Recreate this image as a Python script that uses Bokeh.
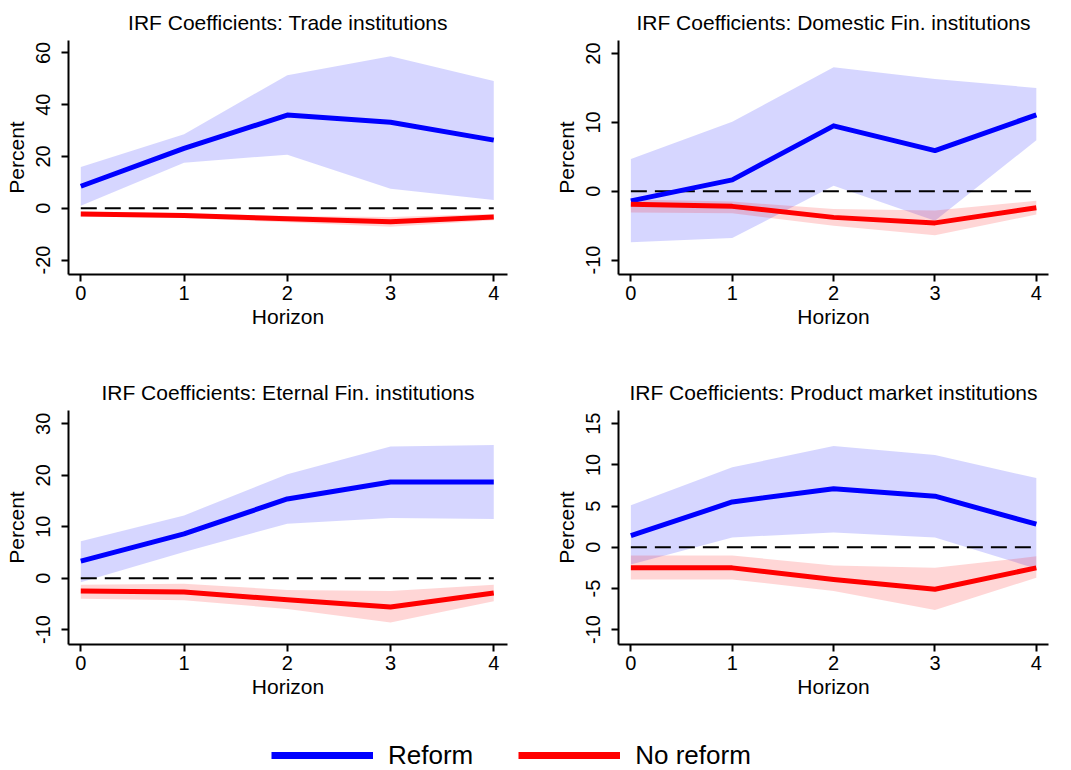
from bokeh.plotting import figure
from bokeh.layouts import column, row
from bokeh.models import Range1d, FixedTicker, Legend, LegendItem
from bokeh.embed import file_html
from bokeh.resources import INLINE

# ---------------- data ----------------
horizon = [0, 1, 2, 3, 4]
x_tick_labels = ["0", "1", "2", "3", "4"]

titles = [
    "IRF Coefficients: Trade institutions",
    "IRF Coefficients: Domestic Fin. institutions",
    "IRF Coefficients: Eternal Fin. institutions",
    "IRF Coefficients: Product market institutions",
]

# Trade institutions
trade_reform = [8.5, 23.1, 36.0, 33.2, 26.3]
trade_reform_hi = [15.9, 28.6, 51.4, 58.7, 49.2]
trade_reform_lo = [1.0, 17.6, 20.7, 7.5, 3.2]
trade_noref = [-2.2, -2.8, -4.1, -5.2, -3.4]
trade_noref_hi = [-1.3, -1.9, -3.0, -3.4, -2.2]
trade_noref_lo = [-3.2, -3.8, -5.4, -7.2, -4.6]

# Domestic Fin. institutions
dom_reform = [-1.4, 1.65, 9.5, 5.9, 11.1]
dom_reform_hi = [4.7, 10.1, 18.0, 16.3, 15.0]
dom_reform_lo = [-7.4, -6.8, 0.8, -4.3, 7.4]
dom_noref = [-1.9, -2.2, -3.8, -4.6, -2.4]
dom_noref_hi = [-1.2, -1.5, -2.6, -2.8, -1.4]
dom_noref_lo = [-3.1, -3.2, -5.0, -6.4, -3.4]

# Eternal Fin. institutions
ext_reform = [3.3, 8.6, 15.4, 18.7, 18.7]
ext_reform_hi = [7.2, 12.2, 20.2, 25.6, 25.9]
ext_reform_lo = [-0.8, 5.1, 10.6, 11.7, 11.5]
ext_noref = [-2.5, -2.7, -4.2, -5.6, -2.9]
ext_noref_hi = [-1.3, -1.1, -2.3, -2.5, -1.3]
ext_noref_lo = [-4.0, -4.3, -6.0, -8.6, -4.5]

# Product market institutions
prod_reform = [1.4, 5.5, 7.1, 6.2, 2.8]
prod_reform_hi = [5.1, 9.7, 12.3, 11.2, 8.4]
prod_reform_lo = [-2.1, 1.2, 1.8, 1.2, -2.6]
prod_noref = [-2.5, -2.5, -3.9, -5.1, -2.5]
prod_noref_hi = [-1.0, -1.0, -2.2, -2.5, -1.1]
prod_noref_lo = [-3.9, -3.9, -5.3, -7.6, -3.7]

y_ticks = [
    [-20, 0, 20, 40, 60],
    [-10, 0, 10, 20],
    [-10, 0, 10, 20, 30],
    [-10, -5, 0, 5, 10, 15],
]
y_tick_labels = [
    ["-20", "0", "20", "40", "60"],
    ["-10", "0", "10", "20"],
    ["-10", "0", "10", "20", "30"],
    ["-10", "-5", "0", "5", "10", "15"],
]
y_ranges = [(-25.6, 64.8), (-12.1, 21.9), (-12.9, 32.6), (-11.8, 16.6)]
x_ranges = [(-0.119, 4.133), (-0.122, 4.12), (-0.119, 4.133), (-0.122, 4.12)]

series = [
    (trade_reform, trade_reform_lo, trade_reform_hi, trade_noref, trade_noref_lo, trade_noref_hi),
    (dom_reform, dom_reform_lo, dom_reform_hi, dom_noref, dom_noref_lo, dom_noref_hi),
    (ext_reform, ext_reform_lo, ext_reform_hi, ext_noref, ext_noref_lo, ext_noref_hi),
    (prod_reform, prod_reform_lo, prod_reform_hi, prod_noref, prod_noref_lo, prod_noref_hi),
]

FONT = "Liberation Sans"
BLUE = "#0000ff"
RED = "#ff0000"

# geometry: (width, height, border_left, border_right, border_top, border_bottom)
geoms = [
    (550, 370, 68, 43, 40, 96),
    (513, 370, 68, 15, 40, 96),
    (550, 348, 68, 43, 40, 74),
    (513, 348, 68, 15, 40, 74),
]


def panel(i):
    w, h, bl, br, bt, bb = geoms[i]
    p = figure(width=w, height=h, toolbar_location=None, output_backend="svg",
               x_range=Range1d(*x_ranges[i]), y_range=Range1d(*y_ranges[i]),
               min_border_left=bl, min_border_right=br,
               min_border_top=bt, min_border_bottom=bb,
               title=titles[i])
    p.outline_line_color = None
    p.grid.visible = False
    p.background_fill_color = "white"
    p.border_fill_color = "white"

    p.title.text_font = FONT
    p.title.text_font_size = "21px"
    p.title.text_font_style = "normal"
    p.title.text_color = "black"
    p.title.align = "center"
    p.title.standoff = 14

    ref, ref_lo, ref_hi, nr, nr_lo, nr_hi = series[i]
    p.varea(x=horizon, y1=ref_lo, y2=ref_hi, fill_color=BLUE, fill_alpha=0.16)
    p.varea(x=horizon, y1=nr_lo, y2=nr_hi, fill_color=RED, fill_alpha=0.16)
    p.segment(x0=horizon[0], x1=horizon[-1], y0=0, y1=0, line_color="black",
              line_width=2, line_dash="16 8")
    p.line(horizon, ref, line_color=BLUE, line_width=5, line_join="round")
    p.line(horizon, nr, line_color=RED, line_width=5, line_join="round")

    for ax in (p.xaxis[0], p.yaxis[0]):
        ax.axis_line_width = 2
        ax.axis_line_color = "black"
        ax.major_tick_line_width = 2
        ax.major_tick_line_color = "black"
        ax.major_tick_out = 7
        ax.major_tick_in = 0
        ax.minor_tick_out = 0
        ax.minor_tick_in = 0
        ax.major_label_text_font = FONT
        ax.major_label_text_font_size = "20px"
        ax.major_label_text_color = "black"
        ax.axis_label_text_font = FONT
        ax.axis_label_text_font_size = "21px"
        ax.axis_label_text_font_style = "normal"
        ax.axis_label_text_color = "black"

    p.xaxis.ticker = FixedTicker(ticks=horizon)
    p.xaxis.major_label_overrides = {t: s for t, s in zip(horizon, x_tick_labels)}
    p.xaxis.axis_label = "Horizon"
    p.xaxis.major_label_standoff = 4
    p.xaxis.axis_label_standoff = 2

    p.yaxis.ticker = FixedTicker(ticks=y_ticks[i])
    p.yaxis.major_label_overrides = {t: s for t, s in zip(y_ticks[i], y_tick_labels[i])}
    p.yaxis.major_label_orientation = "vertical"
    p.yaxis.axis_label = "Percent"
    p.yaxis.major_label_standoff = 11
    p.yaxis.axis_label_standoff = 6
    return p


panels = [panel(i) for i in range(4)]

# legend strip (renderers kept outside the visible range; only their legend glyphs show)
leg = figure(width=1063, height=50, toolbar_location=None, output_backend="svg",
             x_axis_type=None, y_axis_type=None,
             x_range=Range1d(-10, -9), y_range=Range1d(-100, -99),
             min_border=0)
leg.outline_line_color = None
leg.grid.visible = False
r1 = leg.line(horizon, trade_reform, line_color=BLUE, line_width=7)
r2 = leg.line(horizon, trade_noref, line_color=RED, line_width=7)
legend = Legend(items=[LegendItem(label="Reform", renderers=[r1]),
                       LegendItem(label="No reform", renderers=[r2])],
                orientation="horizontal", location=(271, -3),
                glyph_width=102, glyph_height=32, label_height=32,
                label_standoff=15, spacing=45, padding=0, margin=0,
                label_text_font=FONT, label_text_font_size="26px",
                label_text_color="black",
                border_line_alpha=0, background_fill_alpha=0)
leg.add_layout(legend)

layout = column(row(panels[0], panels[1]), row(panels[2], panels[3]), leg)

open("out.html", "w").write(file_html(layout, INLINE))
